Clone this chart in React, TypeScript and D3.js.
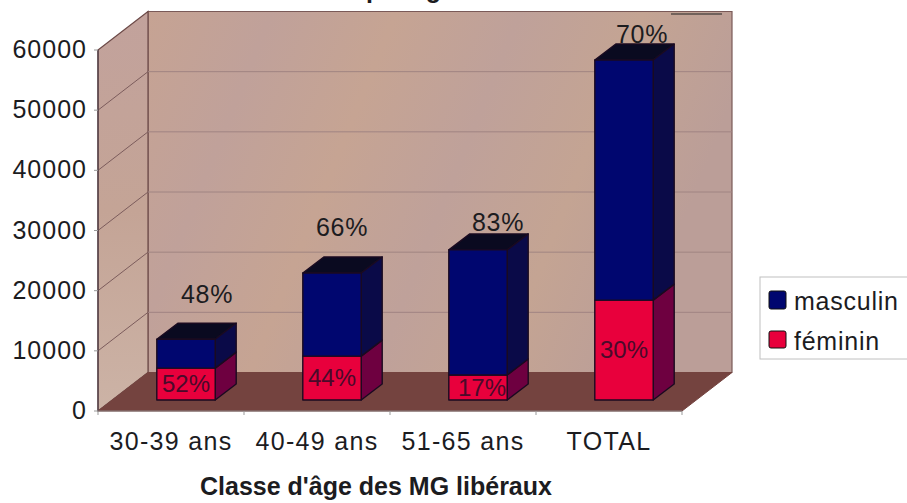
import React from "react";
import * as d3 from "d3";

const categories = ["30-39 ans", "40-49 ans", "51-65 ans", "TOTAL"];
const feminin = [5300, 7300, 4150, 16600];
const masculin = [4800, 13800, 20800, 39900];
const topLabels = ["48%", "66%", "83%", "70%"];
const bottomLabels = ["52%", "44%", "17%", "30%"];
const yTicks = [0, 10000, 20000, 30000, 40000, 50000, 60000];
const topLabelOffsets = [21, 10, 20, 18];
const topLabelBaselines = [303, 236, 231, 43];

const W = 907, H = 503;
const x0 = 98, x1 = 682, yBase = 411, yTop = 50;
const dx = 50, dy = -38.5;
const barDx = 21, barDy = -16;
const barInsetY = 11;
const barShift = 15;
const font = "Liberation Sans, Arial, sans-serif";
const ink = "#1c1c1f";

const y = d3.scaleLinear().domain([0, 60000]).range([yBase, yTop]);
const x = d3.scaleBand<string>().domain(categories).range([x0 + barShift, x1 + barShift]).paddingInner(0.6).paddingOuter(0.3);
const tickX = d3.scaleLinear().domain([0, 4]).range([x0, x1]);
const pts = (p: number[][]) => p.map((q) => q.join(",")).join(" ");

function Box({ xl, xr, top, bot, face, side, cap }: any) {
  return (
    <g stroke="#1a0a20" strokeWidth={1.4} strokeLinejoin="round">
      {cap && <polygon points={pts([[xl, top], [xr, top], [xr + barDx, top + barDy], [xl + barDx, top + barDy]])} fill={cap} />}
      <polygon points={pts([[xr, top], [xr + barDx, top + barDy], [xr + barDx, bot + barDy], [xr, bot]])} fill={side} />
      <rect x={xl} y={top} width={xr - xl} height={bot - top} fill={face} />
    </g>
  );
}

export default function App() {
  const yb = (v: number) => y(v) - barInsetY;
  return (
    <svg width={W} height={H} style={{ position: "absolute", left: 0, top: 0, background: "#fff" }} fontFamily={font}>
      <defs>
        <linearGradient id="wall" x1="0" y1="0" x2="1" y2="0.25">
          <stop offset="0" stopColor="#c6a393" />
          <stop offset="0.2" stopColor="#c0a19a" />
          <stop offset="0.4" stopColor="#c6a493" />
          <stop offset="0.6" stopColor="#bfa19a" />
          <stop offset="0.8" stopColor="#c4a493" />
          <stop offset="1" stopColor="#bb9e98" />
        </linearGradient>
        <linearGradient id="sideWall" x1="0" y1="0" x2="0" y2="1">
          <stop offset="0" stopColor="#c2a29c" />
          <stop offset="0.5" stopColor="#c4a496" />
          <stop offset="1" stopColor="#ccb3a6" />
        </linearGradient>
      </defs>

      <text x={366} y={-2} fontSize={25} fontWeight="bold" fill={ink}>par âge</text>

      {/* walls */}
      <polygon points={pts([[x0 + dx, yTop + dy], [x1 + dx, yTop + dy], [x1 + dx, yBase + dy], [x0 + dx, yBase + dy]])} fill="url(#wall)" stroke="#7a5a58" strokeWidth={1.2} />
      <polygon points={pts([[x0, yTop], [x0 + dx, yTop + dy], [x0 + dx, yBase + dy], [x0, yBase]])} fill="url(#sideWall)" stroke="#6d4a48" strokeWidth={1.2} />
      <line x1={671} x2={722} y1={14} y2={14} stroke="#222" strokeWidth={1.2} />

      {/* gridlines */}
      {yTicks.slice(1, -1).map((t) => (
        <g key={t} fill="none" strokeWidth={1}>
          <line x1={x0} y1={y(t)} x2={x0 + dx} y2={y(t) + dy} stroke="#7c5c5c" />
          <line x1={x0 + dx} y1={y(t) + dy} x2={x1 + dx} y2={y(t) + dy} stroke="#a08482" />
        </g>
      ))}

      {/* floor */}
      <polygon points={pts([[x0, yBase], [x0 + dx, yBase + dy], [x1 + dx, yBase + dy], [x1, yBase]])} fill="#74433f" stroke="#74433f" />
      <line x1={x0} x2={x0} y1={yTop} y2={yBase} stroke="#4a3a44" strokeWidth={1.2} />

      {/* axis */}
      <line x1={x0} x2={x1} y1={yBase} y2={yBase} stroke="#8a8080" strokeWidth={1} />
      {yTicks.map((t) => (
        <g key={t}>
          <line x1={x0 - 4} x2={x0} y1={y(t)} y2={y(t)} stroke="#999" />
          <text x={87} y={y(t) + 8} fontSize={25} letterSpacing={1} textAnchor="end" fill={ink}>{t}</text>
        </g>
      ))}
      {d3.range(5).map((i) => (
        <line key={i} x1={tickX(i)} x2={tickX(i)} y1={yBase} y2={yBase + 4} stroke="#999" />
      ))}

      {/* bars */}
      {categories.map((c, i) => {
        const xl = x(c)!;
        const xr = xl + x.bandwidth();
        const f = feminin[i], m = masculin[i];
        return (
          <g key={c}>
            <Box xl={xl} xr={xr} top={yb(f)} bot={yb(0)} face="#e8003c" side="#6e0040" />
            <Box xl={xl} xr={xr} top={yb(f + m)} bot={yb(f)} face="#00066f" side="#0a0a48" cap="#0a0a20" />
            <text x={(xl + xr) / 2 + (i === 2 ? 4 : 0)} y={yb(f / 2) + 8} fontSize={24} textAnchor="middle" fill="#4a0a2a">{bottomLabels[i]}</text>
          </g>
        );
      })}

      {/* top labels */}
      {categories.map((c, i) => (
        <text key={c} x={x(c)! + x.bandwidth() / 2 + topLabelOffsets[i]} y={topLabelBaselines[i]} fontSize={25} letterSpacing={0.7} textAnchor="middle" fill={ink}>{topLabels[i]}</text>
      ))}

      {/* category labels */}
      {categories.map((c, i) => (
        <text key={c} x={(tickX(i) + tickX(i + 1)) / 2} y={450} fontSize={25} letterSpacing={1.3} textAnchor="middle" fill={ink}>{c}</text>
      ))}
      <text x={376} y={495} fontSize={25} fontWeight="bold" textAnchor="middle" fill={ink}>Classe d'âge des MG libéraux</text>

      {/* legend */}
      <rect x={760} y={277} width={150} height={82} fill="#fff" stroke="#c0c0c0" />
      <rect x={769} y={291} width={17} height={18} rx={2} fill="#00066f" stroke="#111" />
      <rect x={769} y={331} width={17} height={17} rx={2} fill="#e8003c" stroke="#111" />
      <text x={794} y={310} fontSize={25} letterSpacing={0.75} fill={ink}>masculin</text>
      <text x={794} y={350} fontSize={25} letterSpacing={0.75} fill={ink}>féminin</text>
    </svg>
  );
}
